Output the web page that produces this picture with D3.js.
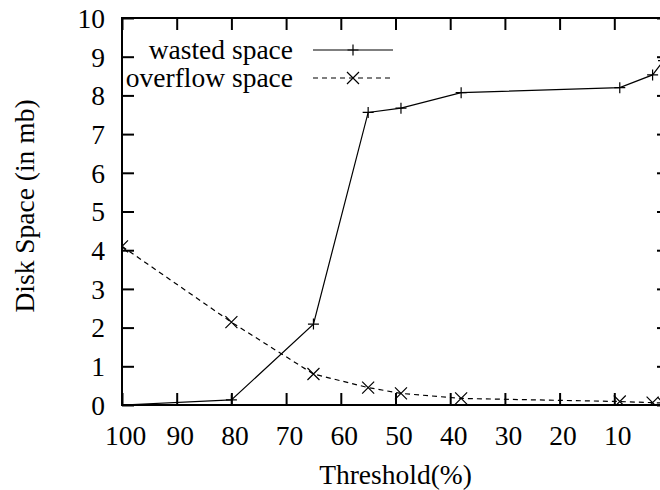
<!DOCTYPE html>
<html>
<head>
<meta charset="utf-8">
<script src="https://cdn.jsdelivr.net/npm/d3@7/dist/d3.min.js"></script>
<style>
  html, body { margin: 0; padding: 0; background: #fff; }
  svg { display: block; }
  svg text { font-family: "Liberation Serif", "Times New Roman", Times, serif; fill: #000; }
</style>
</head>
<body>
<svg id="chart" width="660" height="490"></svg>
<script>
// Threshold values (%) and disk space measurements (mb)
const thresholds = [100, 80, 65, 55, 49, 38, 9, 3, 1];
const wastedSpace = [0.0, 0.13, 2.09, 7.56, 7.67, 8.07, 8.2, 8.53, 8.9];
const overflowSpace = [4.1, 2.14, 0.8, 0.45, 0.3, 0.17, 0.09, 0.06, 0.05];
const xTicks = [100, 90, 80, 70, 60, 50, 40, 30, 20, 10];
const yTicks = [0, 1, 2, 3, 4, 5, 6, 7, 8, 9, 10];

const svg = d3.select("#chart");
const plotLeft = 122, plotRight = 669, plotTop = 18, plotBottom = 405;
const fontSize = 27.5;

const x = d3.scaleLinear().domain([100, 0]).range([plotLeft, plotRight]);
const y = d3.scaleLinear().domain([0, 10]).range([plotBottom, plotTop]);

svg.append("defs").append("clipPath").attr("id", "plotClip")
  .append("rect").attr("x", plotLeft).attr("y", plotTop)
  .attr("width", plotRight - plotLeft).attr("height", plotBottom - plotTop);

// Bottom and left axes with inward ticks
const xAxis = d3.axisBottom(x).tickValues(xTicks).tickSize(-12).tickPadding(20.5).tickFormat(d3.format("d"));
const yAxis = d3.axisLeft(y).tickValues(yTicks).tickSize(-12).tickPadding(17).tickFormat(d3.format("d"));

const gx = svg.append("g").attr("transform", `translate(0,${plotBottom})`).call(xAxis);
const gy = svg.append("g").attr("transform", `translate(${plotLeft},0)`).call(yAxis);
// Mirrored ticks on the top and right borders
const gxt = svg.append("g").attr("transform", `translate(0,${plotTop})`)
  .call(d3.axisTop(x).tickValues(xTicks).tickSize(-12).tickFormat(""));
const gyr = svg.append("g").attr("transform", `translate(${plotRight},0)`)
  .call(d3.axisRight(y).tickValues(yTicks).tickSize(-12).tickFormat(""));

[gx, gy, gxt, gyr].forEach(g => {
  g.attr("font-family", null);
  g.select(".domain").remove();
  g.selectAll(".tick line").attr("stroke", "#000").attr("stroke-width", 2);
  g.selectAll("text").style("font-size", fontSize + "px").attr("fill", "#000");
});
gy.selectAll(".tick text").attr("dy", "0.34em");
gx.selectAll(".tick text").attr("dy", "0.71em").attr("dx", 3);

// Plot border
svg.append("rect").attr("x", plotLeft).attr("y", plotTop)
  .attr("width", plotRight - plotLeft).attr("height", plotBottom - plotTop)
  .attr("fill", "none").attr("stroke", "#000").attr("stroke-width", 2);

// Axis titles
svg.append("text").attr("x", 395.5).attr("y", 484).attr("text-anchor", "middle")
  .style("font-size", fontSize + "px").text("Threshold(%)");
svg.append("text").attr("transform", "translate(34,206) rotate(-90)")
  .attr("text-anchor", "middle").style("font-size", fontSize + "px").text("Disk Space (in mb)");

const plot = svg.append("g").attr("clip-path", "url(#plotClip)");

const line = vals => d3.line().x((d, i) => x(thresholds[i])).y(d => y(d))(vals);

function plus(g, cx, cy) {
  const r = 5.5;
  g.append("path").attr("d", `M${cx - r},${cy}H${cx + r}M${cx},${cy - r}V${cy + r}`)
    .attr("stroke", "#000").attr("stroke-width", 1.2).attr("fill", "none");
}
function cross(g, cx, cy) {
  const r = 6;
  g.append("path").attr("d", `M${cx - r},${cy - r}L${cx + r},${cy + r}M${cx - r},${cy + r}L${cx + r},${cy - r}`)
    .attr("stroke", "#000").attr("stroke-width", 1.2).attr("fill", "none");
}

// Wasted space: solid line with plus markers
plot.append("path").attr("d", line(wastedSpace))
  .attr("fill", "none").attr("stroke", "#000").attr("stroke-width", 1.2);
wastedSpace.forEach((v, i) => plus(plot, x(thresholds[i]), y(v)));

// Overflow space: dashed line with cross markers
plot.append("path").attr("d", line(overflowSpace))
  .attr("fill", "none").attr("stroke", "#000").attr("stroke-width", 1.2)
  .attr("stroke-dasharray", "5,4");
overflowSpace.forEach((v, i) => cross(plot, x(thresholds[i]), y(v)));

// Legend
const legend = [
  { label: "wasted space", dash: null, marker: plus, y: 50 },
  { label: "overflow space", dash: "5,4", marker: cross, y: 78 }
];
legend.forEach(item => {
  svg.append("text").attr("x", 293).attr("y", item.y).attr("dy", "0.34em")
    .attr("text-anchor", "end").style("font-size", fontSize + "px").text(item.label);
  svg.append("line").attr("x1", 313).attr("x2", 393).attr("y1", item.y).attr("y2", item.y)
    .attr("stroke", "#000").attr("stroke-width", 1.2)
    .attr("stroke-dasharray", item.dash);
  item.marker(svg, 353, item.y);
});
</script>
</body>
</html>
